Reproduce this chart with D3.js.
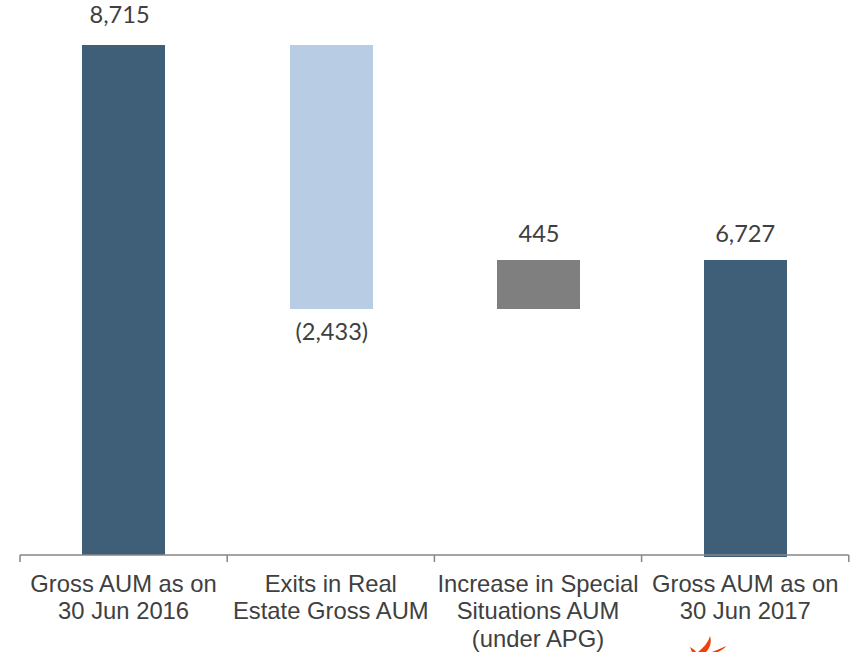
<!DOCTYPE html>
<html>

<head>
	<title>Gross AUM bridge</title>
	<script src="https://cdn.jsdelivr.net/npm/d3@7/dist/d3.min.js"></script>
	<style>
		html, body {
			margin: 0;
			background: #fff;
			overflow: hidden;
		}

		.value {
			font-family: Lato, "Open Sans", sans-serif;
			font-size: 23.6px;
			fill: #404040;
			text-anchor: middle;
		}

		.cat {
			font-family: "Liberation Sans", Arial, sans-serif;
			font-size: 23.8px;
			fill: #404040;
			text-anchor: middle;
		}
	</style>
</head>

<body>
	<svg id="chart" width="856" height="652"></svg>

	<script>
		// values, the axis does not start at zero
		var categories = ['2016', 'exits', 'increase', '2017'];
		var categoryLines = [
			['Gross AUM as on', '30 Jun 2016'],
			['Exits in Real', 'Estate Gross AUM'],
			['Increase in Special', 'Situations AUM', '(under APG)'],
			['Gross AUM as on', '30 Jun 2017']
		];
		var barTop = [8715, 8715, 6727, 6727];
		var barBottom = [4008, 6282, 6282, 3990];
		var valueLabels = ['8,715', '(2,433)', '445', '6,727'];
		var labelBelow = [false, true, false, false];
		var barColors = ['#3f5f78', '#b8cde4', '#7f7f7f', '#3f5f78'];

		var svg = d3.select('#chart');

		var x = d3.scaleBand()
			.domain(categories)
			.range([20, 848.8])
			.padding(0);

		var y = d3.scaleLinear()
			.domain([4008, 8715])
			.range([555, 45])
			.interpolate(d3.interpolateRound);

		var barWidth = 83;

		svg.append('g')
			.selectAll('rect')
			.data(categories)
			.enter()
			.append('rect')
			.attr('x', d => Math.round(x(d) + (x.bandwidth() - barWidth) / 2 + 0.3))
			.attr('y', (d, i) => y(barTop[i]))
			.attr('width', barWidth)
			.attr('height', (d, i) => y(barBottom[i]) - y(barTop[i]))
			.attr('fill', (d, i) => barColors[i]);

		// axis with ticks on the band edges
		var axis = svg.append('g').attr('transform', 'translate(0,555)');
		axis.append('line')
			.attr('x1', x.range()[0]).attr('x2', x.range()[1])
			.attr('stroke', '#868686').attr('stroke-width', 1.5);
		axis.selectAll('.tick')
			.data(categories.map(d => x(d)).concat([x.range()[1]]))
			.enter()
			.append('line')
			.attr('class', 'tick')
			.attr('x1', d => d).attr('x2', d => d)
			.attr('y1', 0).attr('y2', 7)
			.attr('stroke', '#868686').attr('stroke-width', 1.5);

		svg.append('g')
			.selectAll('text')
			.data(valueLabels)
			.enter()
			.append('text')
			.attr('class', 'value')
			.attr('x', (d, i) => x(categories[i]) + x.bandwidth() / 2 + (i == 0 ? -4 : i == 3 ? 0 : 1))
			.attr('y', (d, i) => labelBelow[i] ? y(barBottom[i]) + 31 : y(barTop[i]) - 18 - (i == 0 ? 4 : 0))
			.text(d => d);

		var cats = svg.append('g')
			.selectAll('text')
			.data(categories)
			.enter()
			.append('text')
			.attr('class', 'cat')
			.attr('x', d => x(d) + x.bandwidth() / 2);

		cats.selectAll('tspan')
			.data((d, i) => categoryLines[i])
			.enter()
			.append('tspan')
			.attr('x', function () { return this.parentNode.getAttribute('x'); })
			.attr('y', (d, i) => 591.7 + i * 27.5)
			.text(d => d);

		// top of the flame logo cut off by the page edge
		svg.append('path')
			.attr('d', 'M710 636 C712 642 710 648 706 652 L698 652 C703 648 708 643 710 636 Z M690 647 C692 648 695 650 696 652 L692 652 Z M726 646 C725 648 722 650 718 652 L712 652 C717 650 722 648 726 646 Z')
			.attr('fill', '#f0400f');
	</script>
</body>

</html>
